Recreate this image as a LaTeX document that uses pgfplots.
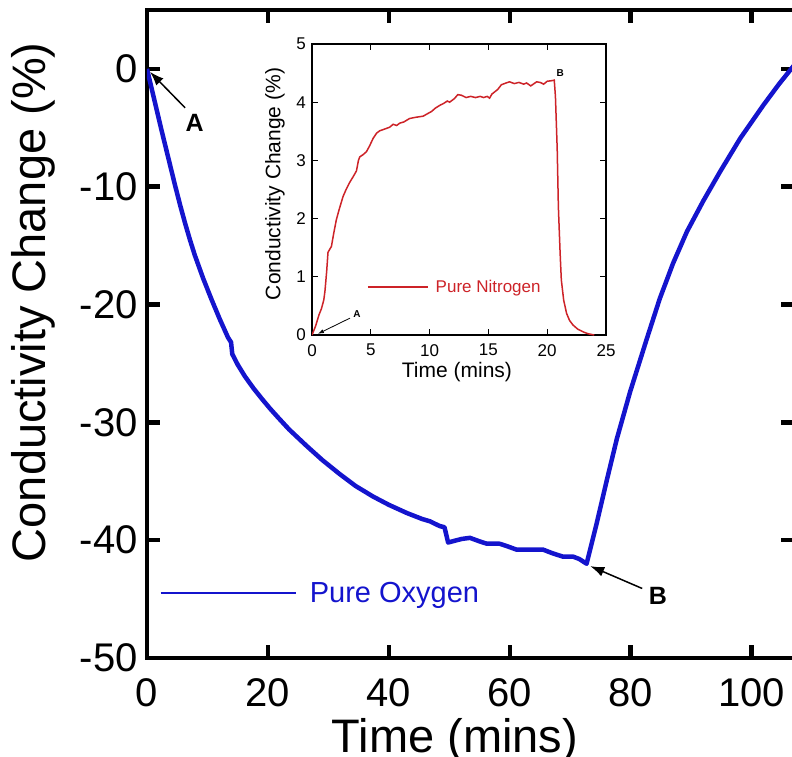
\documentclass[border=0pt]{standalone}
\usepackage{pgfplots}
\pgfplotsset{compat=1.18}
\usepackage{fontspec}
\setmainfont{Liberation Sans}
\usetikzlibrary{arrows.meta}
\definecolor{oxblue}{RGB}{20,20,205}
\definecolor{nired}{RGB}{205,35,40}
\begin{document}
\begin{tikzpicture}
\begin{axis}[name=main, at={(0pt,0pt)}, anchor=south west, scale only axis,
  width=647pt, height=648pt,
  xmin=0, xmax=107, ymin=-50, ymax=5,
  xtick={0,20,...,100}, ytick={-50,-40,...,0},
  tick align=inside, major tick length=13pt,
  tick style={line width=4.5pt, black},
  axis line style={line width=4.5pt},
  /pgf/number format/assume math mode=true,
  tick label style={font=\fontsize{40}{40}\selectfont, inner sep=0pt},
  xticklabel style={yshift=-20pt},
  yticklabel style={xshift=-9pt},
  xlabel={Time (mins)}, ylabel={Conductivity Change (\%)},
  label style={font=\fontsize{47}{47}\selectfont, inner sep=0pt},
  xlabel style={at={(axis description cs:0.476,-0.093)}, anchor=north},
  ylabel style={at={(axis description cs:-0.142,0.549)}, anchor=south},
  legend style={at={(axis cs:2.0,-44.5)}, anchor=west, draw=none, fill=none,
    font=\fontsize{29}{29}\selectfont, text=oxblue, inner sep=0pt,
    nodes={inner sep=0pt}},
  legend image code/.code={\draw[#1, line width=2.5pt] (0pt,0pt) -- (135pt,0pt); \path (147pt,0pt);},
]
\addplot[oxblue, line width=4.5pt, line join=round] coordinates {
(0,0) (1.2,-2.6) (2.4,-5.2) (3.5,-7.5) (4.6,-9.8) (5.5,-11.6) (6.3,-13.1) (7.1,-14.5)
(7.9,-15.8) (9.3,-17.8) (10.7,-19.6) (12.0,-21.2) (13.4,-22.8) (13.9,-23.2) (14.1,-24.2)
(15.0,-25.1) (16.2,-26.1) (17.6,-27.1) (19.0,-28.0) (20.3,-28.8) (21.7,-29.6) (23.5,-30.6)
(26.4,-32.0) (29.0,-33.2) (31.9,-34.4) (34.5,-35.4) (37.4,-36.3) (40.0,-37.0) (43.0,-37.7)
(45.5,-38.2) (46.8,-38.4) (48.4,-38.8) (49.2,-38.9) (49.8,-40.2) (50.5,-40.1)
(52.0,-39.9) (53.4,-39.8) (55.0,-40.1) (56.2,-40.3) (58.3,-40.3) (59.5,-40.5)
(61.1,-40.8) (63.0,-40.8) (65.5,-40.8) (67.0,-41.1) (68.8,-41.4) (70.5,-41.4)
(71.5,-41.6) (72.7,-42.0) (74.4,-38.5) (76.0,-35.0) (77.7,-31.4) (79.9,-27.4)
(82.6,-23.0) (84.8,-19.5) (87.0,-16.5) (89.3,-13.8) (92.0,-11.2)
(94.8,-8.7) (98.1,-5.9) (101.9,-3.1) (104.5,-1.3) (107.0,0.3)
};
\addlegendentry{Pure Oxygen}
\node[font=\fontsize{25}{25}\selectfont\bfseries] at (axis cs:7.9,-4.6) {A};
\draw[line width=1.5pt, -{Latex[length=14pt,width=10pt]}] (axis cs:6.3,-3.3) -- (axis cs:0.5,-0.25);
\node[font=\fontsize{25}{25}\selectfont\bfseries] at (axis cs:84.5,-44.7) {B};
\draw[line width=1.5pt, -{Latex[length=14pt,width=10pt]}] (axis cs:81.9,-44.1) -- (axis cs:73.3,-42.2);
\end{axis}

\begin{axis}[name=inset, at={(165pt,323pt)}, anchor=south west, scale only axis,
  width=294pt, height=291pt,
  axis background/.style={fill=white},
  xmin=0, xmax=25, ymin=0, ymax=5,
  xtick={0,5,...,25}, ytick={0,1,...,5},
  tick align=inside, major tick length=6pt,
  tick style={line width=1.2pt, black},
  axis line style={line width=1.5pt},
  /pgf/number format/assume math mode=true,
  tick label style={font=\fontsize{17}{17}\selectfont, inner sep=0pt},
  xticklabel style={yshift=-9pt},
  yticklabel style={xshift=-6pt},
  xlabel={Time (mins)}, ylabel={Conductivity Change (\%)},
  label style={font=\fontsize{21}{21}\selectfont, inner sep=0pt},
  xlabel style={at={(axis description cs:0.493,-0.092)}, anchor=north},
  ylabel style={at={(axis description cs:-0.092,0.519)}, anchor=south},
  legend style={at={(axis cs:4.68,0.825)}, anchor=west, draw=none, fill=none,
    font=\fontsize{17}{17}\selectfont, text=nired, inner sep=0pt,
    nodes={inner sep=0pt}},
  legend image code/.code={\draw[#1, line width=1.5pt] (0pt,0pt) -- (60pt,0pt); \path (67pt,0pt);},
]
\addplot[nired, line width=1.5pt] coordinates {
(0,0) (0.3,0.15) (0.6,0.35) (0.8,0.45) (1.0,0.6) (1.1,0.75) (1.25,1.1) (1.36,1.42)
(1.5,1.47) (1.65,1.52) (1.85,1.75) (2.07,1.98) (2.3,2.15) (2.64,2.38) (2.9,2.5)
(3.2,2.62) (3.5,2.72) (3.78,2.82) (3.95,3.0) (4.06,3.06) (4.35,3.1) (4.63,3.15)
(4.9,3.25) (5.2,3.38) (5.5,3.47) (5.77,3.51) (6.2,3.54) (6.6,3.57) (6.9,3.62)
(7.2,3.6) (7.46,3.64) (7.8,3.66) (8.3,3.72) (8.8,3.74) (9.45,3.76) (9.8,3.8)
(10.16,3.84) (10.5,3.9) (10.9,3.95) (11.2,3.98) (11.5,4.02) (11.7,4.0) (12.1,4.06)
(12.4,4.13) (12.7,4.12) (13.1,4.08) (13.5,4.1) (13.9,4.08) (14.3,4.1) (14.6,4.08)
(14.9,4.1) (15.1,4.07) (15.3,4.14) (15.55,4.18) (15.8,4.22) (16.1,4.3) (16.5,4.33)
(16.8,4.35) (17.2,4.32) (17.6,4.34) (18.0,4.31) (18.25,4.33) (18.6,4.28) (19.1,4.35)
(19.4,4.34) (19.7,4.31) (20.0,4.36) (20.4,4.37) (20.6,4.38) (20.7,4.1) (20.85,3.2)
(20.95,2.2) (21.1,1.4) (21.2,0.95) (21.4,0.6) (21.65,0.37) (21.9,0.25) (22.2,0.17)
(22.6,0.1) (23.1,0.05) (23.5,0.02) (24.0,0)
};
\addlegendentry{Pure Nitrogen}
\node[font=\fontsize{10}{10}\selectfont\bfseries] at (axis cs:3.83,0.36) {A};
\draw[line width=0.8pt, -{Latex[length=6pt,width=4pt]}] (axis cs:3.23,0.29) -- (axis cs:0.5,0.02);
\node[font=\fontsize{10}{10}\selectfont\bfseries] at (axis cs:21.1,4.5) {B};
\end{axis}
\pgfresetboundingbox
\useasboundingbox (-147pt,-98pt) rectangle (645pt,658pt);
\end{tikzpicture}
\end{document}
